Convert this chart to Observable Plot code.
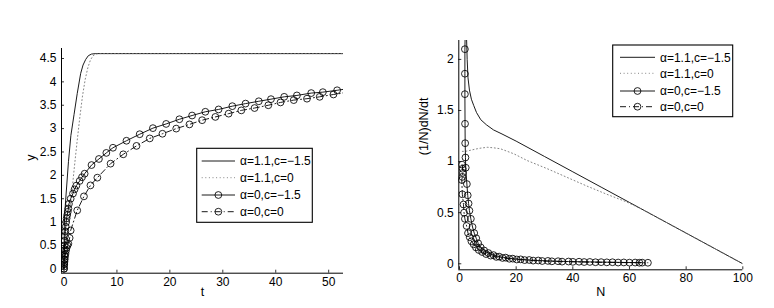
<!DOCTYPE html>
<html><head><meta charset="utf-8">
<script src="https://cdn.jsdelivr.net/npm/d3@7"></script>
<script src="https://cdn.jsdelivr.net/npm/@observablehq/plot@0.6"></script>
<style>
body{margin:0;background:#fff;}
#wrap{position:relative;width:774px;height:308px;overflow:hidden;}
#left,#right{position:absolute;top:0;}
#left{left:0}
#right{left:387px}
</style></head><body><div id="wrap"><div id="left"></div><div id="right"></div></div>
<script>
const seriesLabels = ["α=1.1,c=−1.5", "α=1.1,c=0", "α=0,c=−1.5", "α=0,c=0"];

// Left panel: y versus t
const leftXTicks = [0, 10, 20, 30, 40, 50];
const leftYTicks = [0, 0.5, 1, 1.5, 2, 2.5, 3, 3.5, 4, 4.5];
const leftA11cm15 = [[0,0],[0.02,0.5],[0.06,0.9],[0.15,1.2],[0.4,1.6],[0.85,2.3],[1.3,2.85],[1.9,3.3],[2.5,3.75],[3.15,4.18],[3.6,4.36],[4.1,4.48],[4.6,4.56],[5.2,4.595],[6.0,4.605],[53,4.605]];
const leftA11c0 = [[0,0],[0.5,0.55],[1,1.1],[1.5,1.66],[2,2.22],[2.5,2.75],[3,3.25],[3.5,3.7],[4,4.05],[4.5,4.3],[5,4.47],[5.5,4.56],[6,4.595],[6.5,4.605],[53,4.605]];
const leftA0cm15 = [[0,0],[0.01,0.1],[0.03,0.2],[0.05,0.3],[0.08,0.4],[0.11,0.5],[0.15,0.6],[0.2,0.7],[0.26,0.8],[0.33,0.9],[0.41,1.0],[0.5,1.08],[0.6,1.15],[0.72,1.22],[0.83,1.29],[0.94,1.39],[1.26,1.5],[1.7,1.61],[2.0,1.7],[2.34,1.78],[2.96,1.88],[3.4,1.96],[3.9,2.035],[5.2,2.22],[6.6,2.35],[8.0,2.48],[9.25,2.59],[11.8,2.74],[14.3,2.88],[16.8,3.01],[19.3,3.1],[21.8,3.2],[24.2,3.28],[26.7,3.36],[29.2,3.41],[31.8,3.48],[34.3,3.535],[36.8,3.585],[39.1,3.63],[41.6,3.68],[44.0,3.71],[46.7,3.76],[48.9,3.78],[51.6,3.82],[54,3.86]];
const leftA0c0 = [[0,0],[0.02,0.05],[0.05,0.1],[0.09,0.15],[0.14,0.2],[0.2,0.26],[0.28,0.32],[0.38,0.39],[0.5,0.45],[0.65,0.5],[0.83,0.535],[1.07,0.66],[1.26,0.82],[2.5,1.25],[3.77,1.55],[5.0,1.785],[6.3,1.95],[8.8,2.25],[11.2,2.45],[13.7,2.63],[16.2,2.79],[18.6,2.89],[21.2,3.0],[23.7,3.09],[26.1,3.18],[28.6,3.25],[31.1,3.32],[33.5,3.39],[36.0,3.44],[38.6,3.5],[40.9,3.56],[43.4,3.61],[45.9,3.64],[48.3,3.68],[50.9,3.73],[53.4,3.77]];

// Right panel: (1/N)dN/dt versus N
const rightXTicks = [0, 20, 40, 60, 80, 100];
const rightYTicks = [0, 0.5, 1, 1.5, 2];
const rightA11cm15 = [[2.35,2.45],[2.5,2.2],[2.7,2.0],[3.0,1.82],[3.5,1.7],[4.2,1.61],[5.0,1.55],[6.0,1.48],[7.5,1.41],[9.5,1.36],[12,1.31],[15,1.27],[20,1.2],[30,1.05],[40,0.9],[50,0.75],[60,0.6],[70,0.45],[80,0.3],[90,0.15],[100,0]];
const rightA11c0 = [[1,1.10],[2,1.10],[3,1.105],[4.5,1.115],[7,1.13],[9.8,1.14],[12,1.135],[14.5,1.125],[19.2,1.076],[23.9,1.01],[31,0.93],[38,0.845],[45,0.76],[52,0.68],[59,0.605],[65,0.525],[70,0.45],[80,0.3],[90,0.15],[100,0]];
const rightA0cm15 = [[2.1,2.4],[1.9,2.10],[1.9,1.86],[1.9,1.66],[1.95,1.37],[2.0,1.18],[2.1,1.04],[2.2,0.94],[2.6,0.78],[2.9,0.67],[3.2,0.59],[3.5,0.52],[4.0,0.44],[4.6,0.36],[5.2,0.3],[5.9,0.25],[6.6,0.2],[7.5,0.16],[8.7,0.13],[10.2,0.105],[12,0.085],[14,0.07],[16.3,0.06],[18.8,0.05],[21.6,0.043],[24.6,0.037],[27.8,0.032],[31.2,0.028],[34.8,0.025],[38.5,0.022],[42.2,0.02],[46,0.018],[50,0.016],[54,0.015],[58,0.013],[62,0.012],[64.5,0.011]];
const rightA0c0 = [[0.9,0.97],[1.1,0.93],[1.2,0.89],[1.0,0.85],[0.8,0.82],[1.0,0.68],[1.4,0.58],[1.6,0.5],[1.9,0.44],[2.5,0.37],[3.0,0.3],[3.6,0.26],[4.2,0.22],[5.0,0.19],[5.8,0.16],[6.8,0.135],[8,0.115],[9.4,0.095],[11,0.08],[13,0.067],[15.2,0.057],[17.6,0.049],[20.2,0.042],[23,0.036],[26,0.031],[29.2,0.027],[32.6,0.024],[36.2,0.021],[40,0.019],[44,0.017],[48,0.015],[52,0.014],[56,0.012],[60,0.011],[63.5,0.01],[66.5,0.01]];

const FONT = "'Liberation Sans', Arial, Helvetica, sans-serif";
const styles = [
  {stroke: "#000", dash: null, width: 0.9, marker: false},
  {stroke: "#777", dash: "1,2.6", width: 0.9, marker: false},
  {stroke: "#000", dash: null, width: 0.9, marker: true},
  {stroke: "#000", dash: "6,3,1,3", width: 0.9, marker: true}
];

function panel(opts) {
  const {W, H, mL, mR, mT, mB, xDom, yDom, xTicks, yTicks, series, xLabel, yLabel, xLabelDy, yLabelDx} = opts;
  const innerW = W - mL - mR, innerH = H - mT - mB;
  const marks = [];
  series.forEach((data, i) => {
    const s = styles[i];
    marks.push(Plot.line(data, {x: d => d[0], y: d => d[1], stroke: s.stroke, strokeWidth: s.width, strokeDasharray: s.dash, clip: true}));
    if (s.marker) marks.push(Plot.dot(data, {x: d => d[0], y: d => d[1], r: 3.4, stroke: "#000", strokeWidth: 0.85, fill: "none", clip: true}));
  });
  marks.push(Plot.ruleX([xDom[0]], {stroke: "#000", strokeWidth: 1}));
  marks.push(Plot.ruleY([yDom[0]], {stroke: "#000", strokeWidth: 1}));
  marks.push(Plot.tickX(xTicks, {x: d => d, insetTop: innerH - 3, stroke: "#000", strokeWidth: 0.8}));
  marks.push(Plot.tickY(yTicks, {y: d => d, insetRight: innerW - 3, stroke: "#000", strokeWidth: 0.8}));
  marks.push(Plot.text([xLabel], {text: d => d, frameAnchor: "bottom", dy: xLabelDy, fontSize: 12.5, fill: "#000"}));
  marks.push(Plot.text([yLabel], {text: d => d, frameAnchor: "left", dx: yLabelDx, rotate: -90, fontSize: 12.5, fill: "#000"}));
  return Plot.plot({
    width: W, height: H, marginLeft: mL, marginRight: mR, marginTop: mT, marginBottom: mB,
    style: {fontFamily: FONT, fontSize: "12px", color: "#000", background: "transparent"},
    x: {domain: xDom, ticks: xTicks, tickSize: 0, tickPadding: 4, label: null, tickFormat: d => String(d)},
    y: {domain: yDom, ticks: yTicks, tickSize: 0, tickPadding: 5, label: null, tickFormat: d => String(d)},
    marks
  });
}

function addLegend(svg, box, rows, sx0, sx1, tx) {
  const g = d3.select(svg).append("g").attr("font-family", FONT).attr("font-size", "12px").attr("text-anchor", "start");
  g.append("rect").attr("x", box[0]).attr("y", box[1]).attr("width", box[2]).attr("height", box[3])
    .attr("fill", "#fff").attr("stroke", "#000").attr("stroke-width", 1.1);
  seriesLabels.forEach((lab, i) => {
    const s = styles[i], y = rows[i];
    const ln = g.append("line").attr("x1", sx0).attr("x2", sx1).attr("y1", y).attr("y2", y)
      .attr("stroke", s.stroke).attr("stroke-width", s.width);
    if (s.dash) ln.attr("stroke-dasharray", s.dash);
    if (s.marker) g.append("circle").attr("cx", (sx0 + sx1) / 2).attr("cy", y).attr("r", 3.4)
      .attr("fill", "none").attr("stroke", "#000").attr("stroke-width", 0.85);
    g.append("text").attr("x", tx).attr("y", y).attr("dy", "0.36em").attr("fill", "#000").attr("text-anchor", "start").text(lab);
  });
}

const left = panel({W: 387, H: 308, mL: 61, mR: 44, mT: 48, mB: 35.3,
  xDom: [-0.47, 52.8], yDom: [-0.094, 4.714], xTicks: leftXTicks, yTicks: leftYTicks,
  series: [leftA11cm15, leftA11c0, leftA0cm15, leftA0c0], xLabel: "t", yLabel: "y", xLabelDy: 22.5, yLabelDx: -31});
addLegend(left, [196.7, 148.3, 115.6, 74], [161, 177.7, 195, 211.7], 201.7, 235, 240);
document.getElementById("left").appendChild(left);

const right = panel({W: 387, H: 308, mL: 71.3, mR: 31.7, mT: 40, mB: 38.7,
  xDom: [-0.25, 100], yDom: [-0.059, 2.185], xTicks: rightXTicks, yTicks: rightYTicks,
  series: [rightA11cm15, rightA11c0, rightA0cm15, rightA0c0], xLabel: "N", yLabel: "(1/N)dN/dt", xLabelDy: 25.7, yLabelDx: -35});
addLegend(right, [612.7 - 387, 45, 120, 71.7], [57.3, 73.3, 91, 106.7], 620 - 387, 655 - 387, 660 - 387);
document.getElementById("right").appendChild(right);
</script>
</body></html>
